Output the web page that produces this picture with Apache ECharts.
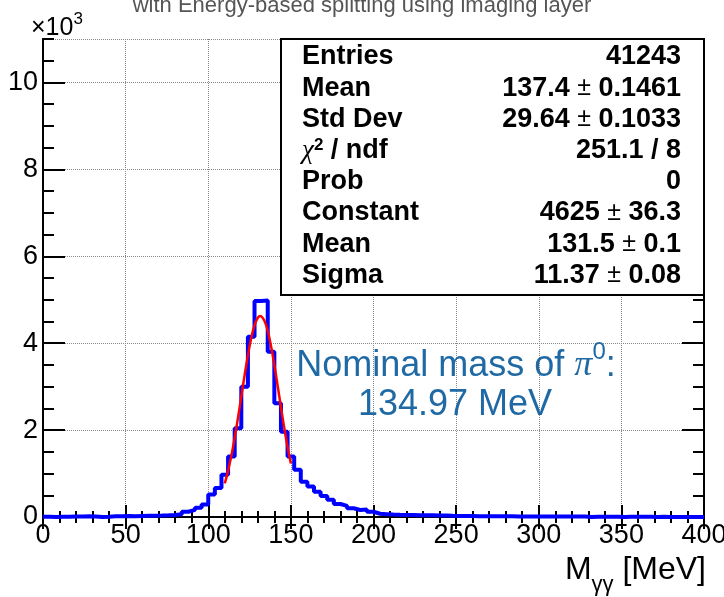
<!DOCTYPE html>
<html>
<head>
<meta charset="utf-8">
<script src="https://cdn.jsdelivr.net/npm/echarts@6/dist/echarts.min.js"></script>
<style>
html,body{margin:0;padding:0;background:#fff;}
#chart{width:724px;height:597px;}
</style>
</head>
<body>
<div id="chart"></div>
<script>
// ---- data ----
const BIN_WIDTH = 4; // MeV
const X_MIN = 0, X_MAX = 400;
const counts = [
  3, 2, 3, 4, 12, 14, 15, 12, 0, 8,
  18, 20, 22, 20, 25, 30, 28, 32, 38, 45,
  65, 120, 165, 215, 290, 520, 665, 975, 1390, 2040,
  3000, 4150, 4970, 4980, 3800, 2620, 1960, 1390, 1090, 810,
  700, 580, 485, 395, 300, 255, 200, 160, 175, 120,
  75, 65, 55, 50, 48, 45, 42, 40, 38, 35,
  32, 28, 25, 24, 22, 20, 18, 17, 16, 15,
  15, 14, 14, 13, 12, 12, 11, 11, 10, 10,
  9, 9, 0, 8, 8, 7, 7, 0, 6, 6,
  5, 4, 0, 3, 2, 0, 0, 0, 0, 0
];
const fitX = [110, 112, 114, 116, 118, 120, 122, 124, 126, 128, 130, 131.5, 132, 134, 136, 138, 140, 142, 144, 146, 148, 150];
const fitY = [774, 1062, 1415, 1827, 2285, 2773, 3262, 3721, 4114, 4411, 4585, 4625, 4621, 4515, 4277, 3928, 3497, 3020, 2527, 2051, 1614, 1231];
const statLabels = ['Entries', 'Mean', 'Std Dev', 'CHI', 'Prob', 'Constant', 'Mean', 'Sigma'];
const statValues = [['41243'], ['137.4', '0.1461'], ['29.64', '0.1033'], ['251.1 / 8'], ['0'], ['4625', '36.3'], ['131.5', '0.1'], ['11.37', '0.08']];
const titleText = 'with Energy-based splitting using imaging layer';
const noteLine2 = '134.97 MeV';

// ---- build ----
const histData = counts.map((c, i) => [X_MIN + i * BIN_WIDTH, c]);
histData.push([X_MAX, counts[counts.length - 1]]);
const fitData = fitX.map((x, i) => [x, fitY[i]]);

const G = {left: 43, top: 39, right: 704, bottom: 517};
const FONT = 'Liberation Sans, Arial, Helvetica, sans-serif';

const graphics = [];
// title (cut off at top)
graphics.push({type: 'text', x: 362, y: 6, z: 10,
  style: {text: titleText, fill: '#555', font: '22px ' + FONT, textAlign: 'center', textVerticalAlign: 'middle'}});
// x10^3
graphics.push({type: 'text', x: 31, y: 26, z: 10,
  style: {text: '{a|×10}{s|3}', textAlign: 'left', textVerticalAlign: 'middle',
    rich: {a: {fontSize: 25, fontFamily: FONT, fill: '#000', lineHeight: 30, verticalAlign: 'bottom'},
           s: {fontSize: 17, fontFamily: FONT, fill: '#000', lineHeight: 30, verticalAlign: 'top'}}}});
// stats box
const BOX = {x: 281, y: 39, w: 704 - 281, h: 295 - 39};
graphics.push({type: 'rect', z: 20, shape: {x: BOX.x, y: BOX.y, width: BOX.w, height: BOX.h},
  style: {fill: '#fff', stroke: '#000', lineWidth: 2}});
const SF = 27;
const richStat = {
  b: {fontSize: SF, fontWeight: 'bold', fontFamily: FONT, fill: '#000'},
  n: {fontSize: SF - 2, fontWeight: 'normal', fontFamily: FONT, fill: '#000'},
  c: {fontSize: SF, fontWeight: 'normal', fontFamily: 'Liberation Serif, serif', fontStyle: 'italic', fill: '#000'},
  sup: {fontSize: 17, fontWeight: 'bold', fontFamily: FONT, fill: '#000', verticalAlign: 'top', lineHeight: 24}
};
statLabels.forEach((lab, i) => {
  const y = 57 + i * 31.2;
  const t = lab === 'CHI' ? '{c|χ}{sup|2}{b| / ndf}' : '{b|' + lab + '}';
  graphics.push({type: 'text', z: 21, x: 302, y: y,
    style: {text: t, rich: richStat, textAlign: 'left', textVerticalAlign: 'middle'}});
  const v = statValues[i];
  const vt = v.length === 2 ? '{b|' + v[0] + ' }{n|±}{b| ' + v[1] + '}' : '{b|' + v[0] + '}';
  graphics.push({type: 'text', z: 21, x: 681, y: y,
    style: {text: vt, rich: richStat, textAlign: 'right', textVerticalAlign: 'middle'}});
});
// annotation
const BLUE = '#1f6aa5';
graphics.push({type: 'text', z: 15, x: 456, y: 362,
  style: {text: '{a|Nominal mass of }{p|π}{s|0}{a|:}', textAlign: 'center', textVerticalAlign: 'middle',
    rich: {a: {fontSize: 36, fontFamily: FONT, fill: BLUE, lineHeight: 44, verticalAlign: 'bottom'},
           p: {fontSize: 36, fontFamily: 'Liberation Serif, serif', fontStyle: 'italic', fill: BLUE, lineHeight: 44, verticalAlign: 'bottom'},
           s: {fontSize: 24, fontFamily: FONT, fill: BLUE, lineHeight: 44, verticalAlign: 'top'}}}});
graphics.push({type: 'text', z: 15, x: 455, y: 405,
  style: {text: noteLine2, fill: BLUE, font: '36px ' + FONT, textAlign: 'center', textVerticalAlign: 'middle'}});
// x axis title
graphics.push({type: 'text', z: 10, x: 706, y: 575,
  style: {text: '{a|M}{s|γγ}{a| [MeV]}', textAlign: 'right', textVerticalAlign: 'middle',
    rich: {a: {fontSize: 32, fontFamily: FONT, fill: '#000', lineHeight: 42, verticalAlign: 'top'},
           s: {fontSize: 22, fontFamily: FONT, fill: '#000', lineHeight: 42, verticalAlign: 'bottom'}}}});

const axisLineStyle = {show: true, lineStyle: {color: '#000', width: 2}};
const split = {show: true, lineStyle: {color: '#888', type: 'dotted', width: 1}};
const LF = 27;

const option = {
  animation: false,
  backgroundColor: '#fff',
  grid: {left: G.left, top: G.top, right: 724 - G.right, bottom: 597 - G.bottom, containLabel: false, outerBoundsMode: 'none'},
  xAxis: [
    {type: 'value', position: 'bottom', min: X_MIN, max: X_MAX, interval: 50,
     axisLine: axisLineStyle,
     axisTick: {show: true, inside: true, length: 12, lineStyle: {color: '#000', width: 2}},
     minorTick: {show: true, splitNumber: 5, length: 6, lineStyle: {color: '#000', width: 2}},
     axisLabel: {show: true, color: '#000', fontSize: LF, fontFamily: FONT, margin: 5, showMinLabel: true, showMaxLabel: true},
     splitLine: split},
    {type: 'value', position: 'top', min: X_MIN, max: X_MAX, interval: 50,
     axisLine: axisLineStyle,
     axisTick: {show: true, inside: true, length: 12, lineStyle: {color: '#000', width: 2}},
     minorTick: {show: true, splitNumber: 5, length: 6, lineStyle: {color: '#000', width: 2}},
     axisLabel: {show: false}, splitLine: {show: false}}
  ],
  yAxis: [
    {type: 'value', position: 'left', min: 0, max: 11000, interval: 2000,
     axisLine: axisLineStyle,
     axisTick: {show: true, inside: true, length: 22, lineStyle: {color: '#000', width: 2}},
     axisLabel: {show: true, color: '#000', fontSize: LF, fontFamily: FONT, margin: 5, showMaxLabel: false,
       formatter: v => String(v / 1000)},
     splitLine: split},
    {type: 'value', position: 'left', min: 0, max: 11000, interval: 500,
     axisLine: axisLineStyle,
     axisTick: {show: true, inside: true, length: 11, lineStyle: {color: '#000', width: 2}},
     axisLabel: {show: false}, splitLine: {show: false}},
    {type: 'value', position: 'right', min: 0, max: 11000, interval: 2000,
     axisLine: axisLineStyle,
     axisTick: {show: true, inside: true, length: 22, lineStyle: {color: '#000', width: 2}},
     axisLabel: {show: false}, splitLine: {show: false}},
    {type: 'value', position: 'right', min: 0, max: 11000, interval: 500,
     axisLine: axisLineStyle,
     axisTick: {show: true, inside: true, length: 11, lineStyle: {color: '#000', width: 2}},
     axisLabel: {show: false}, splitLine: {show: false}}
  ],
  series: [
    {name: 'histogram', type: 'line', xAxisIndex: 0, yAxisIndex: 0, step: 'end', data: histData,
     symbol: 'none', lineStyle: {color: '#0000ff', width: 4}, itemStyle: {color: '#0000ff'}, z: 3},
    {name: 'fit', type: 'line', xAxisIndex: 0, yAxisIndex: 0, smooth: true, data: fitData,
     symbol: 'none', lineStyle: {color: '#ff0000', width: 2.5}, itemStyle: {color: '#ff0000'}, z: 4}
  ],
  graphic: graphics
};
const chart = echarts.init(document.getElementById('chart'), null, {renderer: 'canvas'});
chart.setOption(option);
</script>
</body>
</html>
